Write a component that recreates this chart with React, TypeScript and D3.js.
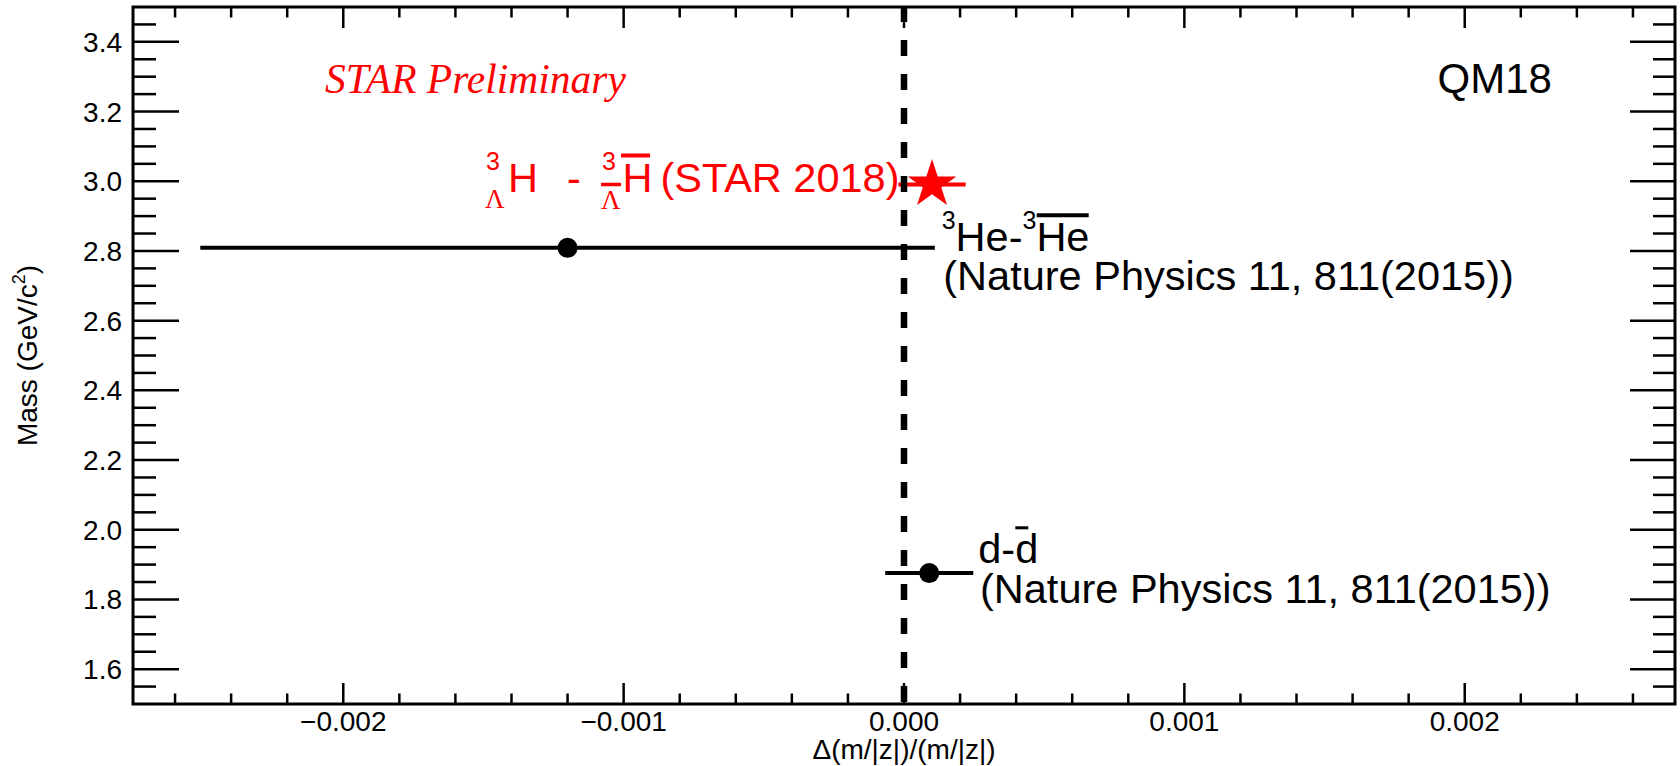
import React, { useEffect, useRef } from "react";
import * as d3 from "d3";

const W = 1680;
const H = 766;
const margin = { top: 7, right: 5, bottom: 62, left: 133 };

const xDomain: [number, number] = [-0.00275, 0.00275];
const yDomain: [number, number] = [1.5, 3.5];

// Nature Physics 11, 811 (2015): 3He and d
const natureNames = ["3He", "d"];
const natureDelta = [-0.0012, 0.00009];
const natureDeltaErr = [0.00131, 0.000157];
const natureMass = [2.809, 1.8756];

// STAR 2018 hypertriton
const starDelta = [0.0001];
const starDeltaErr = [0.00012];
const starMass = [2.991];

// text anchors, data coords
const labelNames = ["star", "he3", "d", "prelim", "qm"];
const labelDelta = [-0.001416, 0.0001345, 0.000265, -0.002065, 0.002311];
const labelMass = [2.9692, 2.8007, 1.9037, 3.2524, 3.2524];

const sans = "'Liberation Sans', Arial, Helvetica, sans-serif";
const serif = "'Liberation Serif', 'Times New Roman', serif";
const red = "#ff0000";

export default function App() {
  const svgRef = useRef<SVGSVGElement>(null);

  useEffect(() => {
    const x0 = margin.left;
    const x1 = W - margin.right;
    const y0 = H - margin.bottom;
    const y1 = margin.top;

    const x = d3.scaleLinear().domain(xDomain).range([x0, x1]);
    const y = d3.scaleLinear().domain(yDomain).range([y0, y1]);

    const svg = d3.select(svgRef.current);
    svg.selectAll("*").remove();

    const lbl = (name: string) => {
      const i = labelNames.indexOf(name);
      return [x(labelDelta[i]), y(labelMass[i])];
    };

    const text = (
      px: number,
      py: number,
      str: string,
      size: number,
      opts: { fill?: string; family?: string; anchor?: string; italic?: boolean } = {}
    ) =>
      svg
        .append("text")
        .attr("x", px)
        .attr("y", py)
        .attr("font-family", opts.family || sans)
        .attr("font-size", size)
        .attr("font-style", opts.italic ? "italic" : "normal")
        .attr("text-anchor", opts.anchor || "start")
        .attr("fill", opts.fill || "#000")
        .text(str);

    const bar = (xa: number, xb: number, yy: number, w: number, color: string) =>
      svg
        .append("line")
        .attr("x1", xa)
        .attr("x2", xb)
        .attr("y1", yy)
        .attr("y2", yy)
        .attr("stroke", color)
        .attr("stroke-width", w);

    // ticks
    const xMajor = x.ticks(5);
    const xMinor = x.ticks(25).filter((v) => !xMajor.some((m) => Math.abs(m - v) < 1e-9));
    const yMajor = y.ticks(10);
    const yMinor = y
      .ticks(40)
      .filter((v) => !yMajor.some((m) => Math.abs(m - v) < 1e-9))
      .filter((v) => v > yDomain[0] + 1e-9 && v < yDomain[1] - 1e-9);

    const ticks = svg.append("g").attr("stroke", "#000").attr("stroke-width", 2.5);
    const vTick = (v: number, len: number) => {
      ticks.append("line").attr("x1", x(v)).attr("x2", x(v)).attr("y1", y0).attr("y2", y0 - len);
      ticks.append("line").attr("x1", x(v)).attr("x2", x(v)).attr("y1", y1).attr("y2", y1 + len);
    };
    const hTick = (v: number, lenL: number, lenR: number) => {
      ticks.append("line").attr("x1", x0).attr("x2", x0 + lenL).attr("y1", y(v)).attr("y2", y(v));
      ticks.append("line").attr("x1", x1).attr("x2", x1 - lenR).attr("y1", y(v)).attr("y2", y(v));
    };
    xMajor.forEach((v) => vTick(v, 21));
    xMinor.forEach((v) => vTick(v, 10.5));
    yMajor.forEach((v) => hTick(v, 46, 45));
    yMinor.forEach((v) => hTick(v, 23, 22));

    // tick labels
    const fx = d3.format(".3f");
    const fy = d3.format(".1f");
    xMajor.forEach((v) => text(x(v), y0 + 27, fx(v), 28, { anchor: "middle" }));
    yMajor.forEach((v) => text(x0 - 11, y(v) + 10, fy(v), 28, { anchor: "end" }));

    // frame
    svg
      .append("rect")
      .attr("x", x0)
      .attr("y", y1)
      .attr("width", x1 - x0)
      .attr("height", y0 - y1)
      .attr("fill", "none")
      .attr("stroke", "#000")
      .attr("stroke-width", 3);

    // axis titles
    text(x(0), y0 + 55, "\u0394(m/|z|)/(m/|z|)", 28, { anchor: "middle" });
    const yt = svg
      .append("text")
      .attr("transform", `translate(37,${y(2.5)}) rotate(-90)`)
      .attr("font-family", sans)
      .attr("font-size", 28)
      .attr("text-anchor", "middle");
    yt.append("tspan").text("Mass (GeV/c");
    yt.append("tspan").attr("font-size", 18).attr("dy", -12).text("2");
    yt.append("tspan").attr("dy", 12).text(")");

    // error bars
    natureDelta.forEach((d, i) =>
      bar(x(d - natureDeltaErr[i]), x(d + natureDeltaErr[i]), y(natureMass[i]), 4, "#000")
    );
    starDelta.forEach((d, i) =>
      bar(x(d - starDeltaErr[i]), x(d + starDeltaErr[i]), y(starMass[i]), 4, red)
    );

    // zero line
    svg
      .append("line")
      .attr("x1", x(0))
      .attr("x2", x(0))
      .attr("y1", y1 - 1)
      .attr("y2", y0)
      .attr("stroke", "#000")
      .attr("stroke-width", 6.5)
      .attr("stroke-dasharray", "16 18");

    // markers
    svg
      .selectAll(".nat")
      .data(natureNames)
      .enter()
      .append("circle")
      .attr("class", "nat")
      .attr("cx", (_, i) => x(natureDelta[i]))
      .attr("cy", (_, i) => y(natureMass[i]))
      .attr("r", 10)
      .attr("fill", "#000");

    const star = d3.symbol(d3.symbolStar, 730);
    starDelta.forEach((d, i) =>
      svg
        .append("path")
        .attr("d", star())
        .attr("transform", `translate(${x(d)},${y(starMass[i])})`)
        .attr("fill", red)
    );

    // hypertriton label
    {
      const [ax, ay] = lbl("star");
      const o = { fill: red };
      const s = ax - 21;
      text(s, ay - 22, "3", 25, o);
      text(s - 1, ay + 16, "\u039B", 27, { fill: red, family: serif });
      text(s + 22, ay, "H", 41.5, o);
      text(ax + 60, ay, "-", 41.5, o);
      text(ax + 95, ay - 22, "3", 25, o);
      bar(ax + 94, ax + 114, ay - 7.5, 3.5, red);
      text(ax + 94, ay + 17, "\u039B", 27, { fill: red, family: serif });
      text(ax + 115.5, ay, "H", 41.5, o);
      bar(ax + 114, ax + 143, ay - 36.5, 4, red);
      text(ax + 153.4, ay, "(STAR 2018)", 41.5, o);
    }

    // 3He label
    {
      const [ax, ay] = lbl("he3");
      const t = svg.append("text").attr("x", ax).attr("y", ay).attr("font-family", sans).attr("fill", "#000");
      t.append("tspan").attr("font-size", 25).attr("dy", -21.7).text("3");
      t.append("tspan").attr("font-size", 41.5).attr("dy", 21.7).text("He-");
      t.append("tspan").attr("font-size", 25).attr("dy", -21.7).text("3");
      t.append("tspan").attr("font-size", 41.5).attr("dy", 21.7).text("He");
      bar(ax + 95, ax + 147, ay - 35.4, 4, "#000");
      text(ax + 1.6, ay + 39.3, "(Nature Physics 11, 811(2015))", 41.5);
    }

    // d label
    {
      const [ax, ay] = lbl("d");
      text(ax, ay, "d-d", 41.5);
      bar(ax + 37, ax + 50, ay - 35.5, 3, "#000");
      text(ax + 1.7, ay + 40, "(Nature Physics 11, 811(2015))", 41.5);
    }

    {
      const [ax, ay] = lbl("prelim");
      text(ax, ay, "STAR Preliminary", 41.5, { fill: red, family: serif, italic: true });
    }
    {
      const [ax, ay] = lbl("qm");
      text(ax, ay, "QM18", 42, { anchor: "end" });
    }
  }, []);

  return (
    <svg
      ref={svgRef}
      width={W}
      height={H}
      style={{ position: "absolute", left: 0, top: 0, background: "#fff" }}
    ></svg>
  );
}
